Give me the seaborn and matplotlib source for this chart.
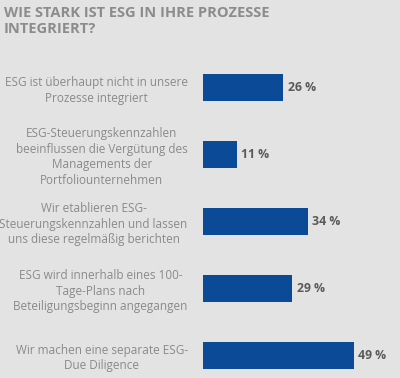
import matplotlib
matplotlib.use("Agg")
import matplotlib.pyplot as plt
import pandas as pd
import seaborn as sns

CATEGORIES = [
    "ESG ist überhaupt nicht in unsere\nProzesse integriert",
    "ESG-Steuerungskennzahlen\nbeeinflussen die Vergütung des\nManagements der\nPortfoliounternehmen",
    "Wir etablieren ESG-\nSteuerungskennzahlen und lassen\nuns diese regelmäßig berichten",
    "ESG wird innerhalb eines 100-\nTage-Plans nach\nBeteiligungsbeginn angegangen",
    "Wir machen eine separate ESG-\nDue Diligence",
]
VALUES = [26, 11, 34, 29, 49]
TITLE = "WIE STARK IST ESG IN IHRE PROZESSE\nINTEGRIERT?"

BG = "#e3e3e3"
BAR = "#0b4a97"

sns.set_theme(style="white")
plt.rcParams["font.family"] = ["Open Sans", "DejaVu Sans"]

df = pd.DataFrame({"cat": CATEGORIES, "val": VALUES})

fig = plt.figure(figsize=(4.0, 3.78), dpi=100, facecolor=BG)
ax = fig.add_axes([0.5075, 0.0, 0.455, 0.857])
ax.set_facecolor(BG)

sns.barplot(data=df, x="val", y="cat", orient="h", color=BAR, width=0.4,
            saturation=1, linewidth=0, ax=ax)

ax.set_xlim(0, 59)
ax.set_ylim(4.34, -0.5)
ax.set_xticks([])
ax.set_xlabel("")
ax.set_ylabel("")
for s in ax.spines.values():
    s.set_visible(False)
ax.tick_params(axis="y", length=0, pad=11)
for lbl in ax.get_yticklabels():
    lbl.set_fontsize(8.5)
    lbl.set_color("#8a8a8a")
    lbl.set_horizontalalignment("right")
    lbl.set_multialignment("center")
    lbl.set_linespacing(1.25)

for i, v in enumerate(VALUES):
    ax.text(v + 1.4, i, f"{v} %", va="center", ha="left",
            fontsize=8.8, fontweight="bold", color="#5a5a5a")

fig.text(0.01, 0.983, TITLE, ha="left", va="top", fontsize=10.5,
         fontweight="bold", color="#8c8c8c", linespacing=1.15)

fig.savefig("out.png", dpi=100, facecolor=BG)
